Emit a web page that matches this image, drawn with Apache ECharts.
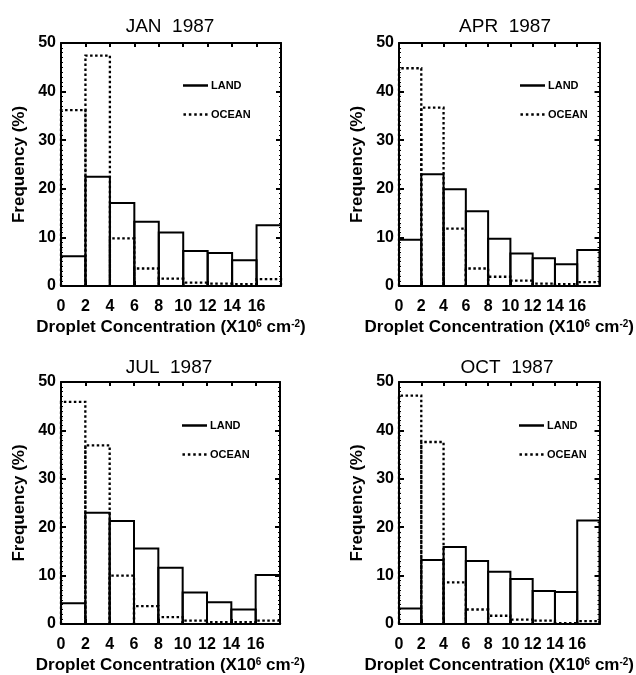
<!DOCTYPE html>
<html>
<head>
<meta charset="utf-8">
<script src="https://cdn.jsdelivr.net/npm/echarts@6/dist/echarts.min.js"></script>
<style>
html,body{margin:0;padding:0;background:#fff;}
#chart{width:636px;height:675px;}
</style>
</head>
<body>
<div id="chart"></div>
<script>
// ---- data ----
const panelTitles = ['JAN  1987', 'APR  1987', 'JUL  1987', 'OCT  1987'];
const binEdges = [0, 2, 4, 6, 8, 10, 12, 14, 16, 18];
const xTickLabels = [0, 2, 4, 6, 8, 10, 12, 14, 16];
const yTickLabels = [0, 10, 20, 30, 40, 50];
const seriesNames = ['LAND', 'OCEAN'];

const landJan  = [6.1, 22.5, 17.1, 13.2, 11.0, 7.2, 6.8, 5.3, 12.5];
const oceanJan = [36.2, 47.4, 9.8, 3.6, 1.5, 0.7, 0.5, 0.4, 1.4];
const landApr  = [9.5, 23.0, 19.9, 15.4, 9.7, 6.7, 5.7, 4.5, 7.4];
const oceanApr = [44.8, 36.7, 11.8, 3.6, 1.9, 1.1, 0.5, 0.4, 0.8];
const landJul  = [4.3, 23.0, 21.3, 15.6, 11.6, 6.5, 4.5, 3.0, 10.1];
const oceanJul = [45.9, 36.9, 10.0, 3.7, 1.4, 0.7, 0.4, 0.4, 0.7];
const landOct  = [3.2, 13.2, 15.9, 13.0, 10.8, 9.3, 6.8, 6.6, 21.4];
const oceanOct = [47.2, 37.6, 8.6, 3.0, 1.7, 0.9, 0.7, 0.2, 0.6];

const landAll = [landJan, landApr, landJul, landOct];
const oceanAll = [oceanJan, oceanApr, oceanJul, oceanOct];

// ---- layout ----
const grids = [
  {left: 61, top: 43, width: 220, height: 243},
  {left: 399, top: 43, width: 219, height: 243},
  {left: 61, top: 382, width: 219, height: 246},
  {left: 399, top: 382, width: 218, height: 246}
];
const titlePos = [
  {left: 165, top: 12}, {left: 500, top: 12},
  {left: 164, top: 353}, {left: 502, top: 353}
];
const legendPos = [
  {left: 183, top: 80}, {left: 520, top: 80},
  {left: 182, top: 420}, {left: 519, top: 420}
];

const FONT = 'Liberation Sans, Arial, Helvetica, sans-serif';
const solidIcon = 'path://M0,0h25v2.5h-25z';
const dotIcon = 'path://M0,0h2.5v2.5h-2.5z M5.4,0h2.5v2.5h-2.5z M10.8,0h2.5v2.5h-2.5z M16.2,0h2.5v2.5h-2.5z M21.6,0h2.5v2.5h-2.5z';

function toBins(values) {
  return values.map((v, k) => [binEdges[k], binEdges[k + 1], v]);
}
function makeRender(dotted) {
  return function (params, api) {
    const x0 = api.value(0), x1 = api.value(1), v = api.value(2);
    const pts = [api.coord([x0, 0]), api.coord([x0, v]), api.coord([x1, v]), api.coord([x1, 0])];
    return {
      type: 'polyline',
      shape: {points: pts},
      style: {
        fill: null, stroke: '#000',
        lineWidth: dotted ? 2.3 : 2,
        lineDash: dotted ? [2.5, 2.5] : null, lineCap: 'butt'
      }
    };
  };
}

const xAxes = [], yAxes = [], series = [], titles = [], legends = [];
grids.forEach((g, i) => {
  const tickStyle = {show: true, inside: true, length: 5, lineStyle: {color: '#000', width: 2}};
  xAxes.push({
    type: 'value', gridIndex: i, position: 'bottom', min: 0, max: 18, interval: 2,
    axisLine: {show: true, onZero: false, lineStyle: {color: '#000', width: 2}},
    axisTick: tickStyle,
    splitLine: {show: false},
    axisLabel: {
      show: true, margin: 13, color: '#000', fontSize: 16, fontWeight: 'bold', fontFamily: FONT,
      formatter: v => (xTickLabels.indexOf(v) >= 0 ? String(v) : '')
    },
    name: 'Droplet Concentration (X10{sup|6} cm{sup|-2})',
    nameLocation: 'middle', nameGap: 33,
    nameTextStyle: {
      color: '#000', fontSize: 17, fontWeight: 'bold', fontFamily: FONT,
      rich: {sup: {fontSize: 10, fontWeight: 'bold', fontFamily: FONT, color: '#000', verticalAlign: 'top', padding: [0, 0, 6, 0]}}
    }
  });
  xAxes.push({
    type: 'value', gridIndex: i, position: 'top', min: 0, max: 18, interval: 2,
    axisLine: {show: true, onZero: false, lineStyle: {color: '#000', width: 2}},
    axisTick: {show: true, inside: true, length: 4, lineStyle: {color: '#000', width: 2}},
    splitLine: {show: false}, axisLabel: {show: false}
  });
  const minor = {show: true, splitNumber: 10, length: 2, lineStyle: {color: '#000', width: 1}};
  yAxes.push({
    type: 'value', gridIndex: i, position: 'left', min: 0, max: 50, interval: 10,
    axisLine: {show: true, onZero: false, lineStyle: {color: '#000', width: 2}},
    axisTick: tickStyle, minorTick: minor,
    splitLine: {show: false}, minorSplitLine: {show: false},
    axisLabel: {
      show: true, margin: 5, color: '#000', fontSize: 16, fontWeight: 'bold', fontFamily: FONT,
      formatter: v => (yTickLabels.indexOf(v) >= 0 ? String(v) : '')
    },
    name: 'Frequency (%)', nameLocation: 'middle', nameGap: 33,
    nameTextStyle: {color: '#000', fontSize: 17, fontWeight: 'bold', fontFamily: FONT}
  });
  yAxes.push({
    type: 'value', gridIndex: i, position: 'right', min: 0, max: 50, interval: 10,
    axisLine: {show: true, onZero: false, lineStyle: {color: '#000', width: 2}},
    axisTick: tickStyle, minorTick: minor,
    splitLine: {show: false}, minorSplitLine: {show: false},
    axisLabel: {show: false}
  });
  series.push({
    type: 'custom', name: 'OCEAN', xAxisIndex: 2 * i, yAxisIndex: 2 * i,
    data: toBins(oceanAll[i]), encode: {x: [0, 1], y: 2},
    renderItem: makeRender(true), itemStyle: {color: '#000'}, z: 2, silent: true
  });
  series.push({
    type: 'custom', name: 'LAND', xAxisIndex: 2 * i, yAxisIndex: 2 * i,
    data: toBins(landAll[i]), encode: {x: [0, 1], y: 2},
    renderItem: makeRender(false), itemStyle: {color: '#000'}, z: 3, silent: true
  });
  titles.push({
    text: panelTitles[i], left: titlePos[i].left, top: titlePos[i].top, textAlign: 'center',
    textStyle: {color: '#000', fontSize: 19, fontWeight: 'normal', fontFamily: FONT}
  });
  legends.push({
    orient: 'vertical', left: legendPos[i].left, top: legendPos[i].top,
    itemWidth: 25, itemHeight: 2.5, itemGap: 18, selectedMode: false, padding: 0,
    textStyle: {color: '#000', fontSize: 11, fontWeight: 'bold', fontFamily: FONT, padding: [0, 0, 0, -2]},
    data: [
      {name: seriesNames[0], icon: solidIcon, itemStyle: {color: '#000'}},
      {name: seriesNames[1], icon: dotIcon, itemStyle: {color: '#000'}}
    ]
  });
});

const chart = echarts.init(document.getElementById('chart'), null, {renderer: 'canvas'});
chart.setOption({
  backgroundColor: '#fff',
  animation: false,
  title: titles,
  legend: legends,
  grid: grids,
  xAxis: xAxes,
  yAxis: yAxes,
  series: series
});
</script>
</body>
</html>
